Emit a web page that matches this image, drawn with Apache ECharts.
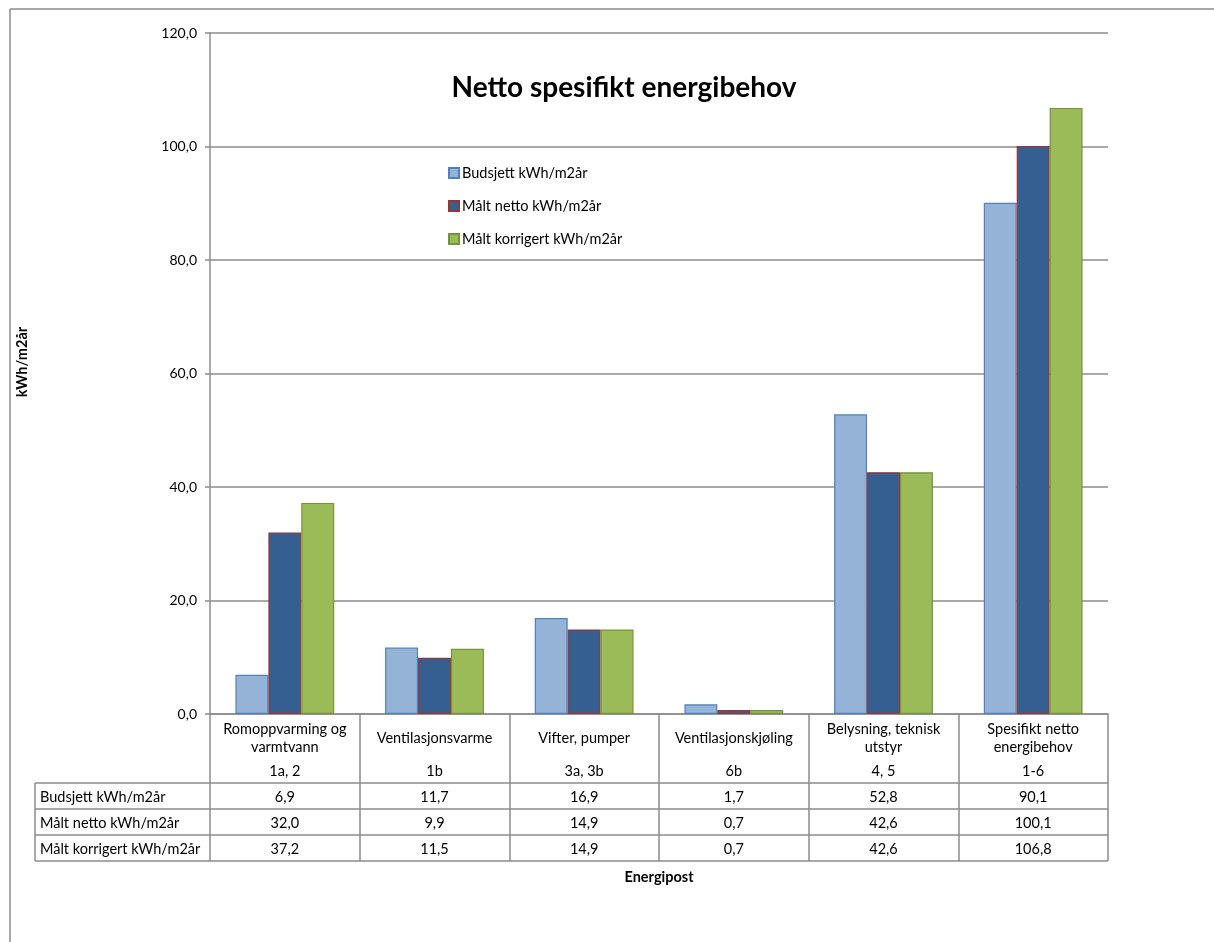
<!DOCTYPE html>
<html>
<head>
<meta charset="utf-8">
<script src="https://cdn.jsdelivr.net/npm/echarts@6/dist/echarts.min.js"></script>
<style>
  html, body { margin: 0; padding: 0; background: #fff; }
  #chart { width: 1214px; height: 942px; }
</style>
</head>
<body>
<div id="chart"></div>
<script>
// Energy posts (categories) and their code references
const categories = [
  'Romoppvarming og\nvarmtvann',
  'Ventilasjonsvarme',
  'Vifter, pumper',
  'Ventilasjonskjøling',
  'Belysning, teknisk\nutstyr',
  'Spesifikt netto\nenergibehov'
];
const codes = ['1a, 2', '1b', '3a, 3b', '6b', '4, 5', '1-6'];

// Series values, kWh/m2 per year
const budsjett = [6.9, 11.7, 16.9, 1.7, 52.8, 90.1];
const maltNetto = [32.0, 9.9, 14.9, 0.7, 42.6, 100.1];
const maltKorrigert = [37.2, 11.5, 14.9, 0.7, 42.6, 106.8];

const seriesNames = ['Budsjett kWh/m2år', 'Målt netto kWh/m2år', 'Målt korrigert kWh/m2år'];
const yTicks = [0, 20, 40, 60, 80, 100, 120];

const FONT = 'Lato, "Open Sans", sans-serif';
const GRID_COLOR = '#8c8c8c';
const TXT = 14.5;
const fmt = v => v.toFixed(1).replace('.', ',');

const chart = echarts.init(document.getElementById('chart'), null, { renderer: 'canvas' });

const GRID = { left: 210, top: 33, width: 898, height: 681 };

const seriesStyle = [
  { fill: '#95b3d7', border: '#4f81bd' },
  { fill: '#365f91', border: '#953735' },
  { fill: '#9bbb59', border: '#77933c' }
];
const seriesData = [budsjett, maltNetto, maltKorrigert];

chart.setOption({
  animation: false,
  textStyle: { fontFamily: FONT },
  title: {
    text: 'Netto spesifikt energibehov',
    left: 619, top: 69, textAlign: 'center',
    textStyle: { fontFamily: FONT, fontSize: 28, fontWeight: 'bold', color: '#000' }
  },
  legend: {
    orient: 'vertical',
    left: 443, top: 159,
    itemWidth: 10, itemHeight: 10, itemGap: 15,
    icon: 'rect',
    textStyle: { fontFamily: FONT, fontSize: TXT, color: '#000', padding: [0, 0, 0, -2], lineHeight: 18 },
    data: seriesNames
  },
  grid: GRID,
  xAxis: {
    type: 'category',
    data: categories,
    axisLine: { lineStyle: { color: GRID_COLOR, width: 1.5 } },
    axisTick: { show: true, length: 147, lineStyle: { color: GRID_COLOR, width: 1.5 } },
    axisLabel: { show: false },
    name: 'Energipost',
    nameLocation: 'middle',
    nameGap: 156,
    nameTextStyle: { fontFamily: FONT, fontSize: TXT, fontWeight: 'bold', color: '#000' }
  },
  yAxis: {
    type: 'value',
    min: 0, max: 120, interval: 20,
    axisLine: { show: true, lineStyle: { color: GRID_COLOR, width: 1.5 } },
    axisTick: { show: true, length: 5, lineStyle: { color: GRID_COLOR, width: 1.5 } },
    splitLine: { lineStyle: { color: GRID_COLOR, width: 1.5 } },
    axisLabel: {
      margin: 13, fontFamily: FONT, fontSize: 14, color: '#000',
      formatter: v => yTicks.includes(v) ? fmt(v) : ''
    }
  },
  series: seriesNames.map((name, i) => ({
    name,
    type: 'bar',
    data: seriesData[i],
    barGap: '0%',
    barCategoryGap: '34%',
    itemStyle: { color: seriesStyle[i].fill, borderColor: seriesStyle[i].border, borderWidth: 1.2 }
  }))
});

// Data table under the plot: category names, codes and one row per series
function drawTable() {
  const g = [];
  const lineStyle = { stroke: GRID_COLOR, lineWidth: 1.5 };
  const x0 = 35;
  const xRight = GRID.left + GRID.width;
  const rows = [783, 809, 835, 861];
  const centers = categories.map((c, i) => chart.convertToPixel({ xAxisIndex: 0 }, i));

  rows.forEach(y => g.push({ type: 'line', shape: { x1: x0, y1: y, x2: xRight, y2: y }, style: lineStyle, silent: true }));
  g.push({ type: 'line', shape: { x1: x0, y1: rows[0], x2: x0, y2: rows[3] }, style: lineStyle, silent: true });

  const textEl = (x, y, text, align) => ({
    type: 'text', silent: true,
    style: { x, y, text, fill: '#000', font: TXT + 'px ' + FONT, textAlign: align || 'center', textVerticalAlign: 'middle', lineHeight: 18 }
  });

  categories.forEach((c, i) => {
    g.push(textEl(centers[i], 738, c));
    g.push(textEl(centers[i], 771, codes[i]));
    seriesData.forEach((arr, r) => {
      g.push(textEl(centers[i], (rows[r] + rows[r + 1]) / 2 + 1, fmt(arr[i])));
    });
  });
  seriesNames.forEach((n, r) => g.push(textEl(x0 + 5, (rows[r] + rows[r + 1]) / 2 + 1, n, 'left')));

  // Y axis title
  g.push({
    type: 'text', silent: true, x: 22, y: 362, rotation: Math.PI / 2,
    style: { x: 0, y: 0, text: 'kWh/m2år', fill: '#000', font: 'bold ' + TXT + 'px ' + FONT, textAlign: 'center', textVerticalAlign: 'middle' }
  });

  // Outer chart frame
  g.push({ type: 'line', shape: { x1: 10, y1: 9, x2: 1214, y2: 9 }, style: { stroke: '#8c8c8c', lineWidth: 1.5 }, silent: true });
  g.push({ type: 'line', shape: { x1: 10, y1: 9, x2: 10, y2: 942 }, style: { stroke: '#8c8c8c', lineWidth: 1.5 }, silent: true });

  chart.setOption({ graphic: { elements: g } });
}
drawTable();
</script>
</body>
</html>
